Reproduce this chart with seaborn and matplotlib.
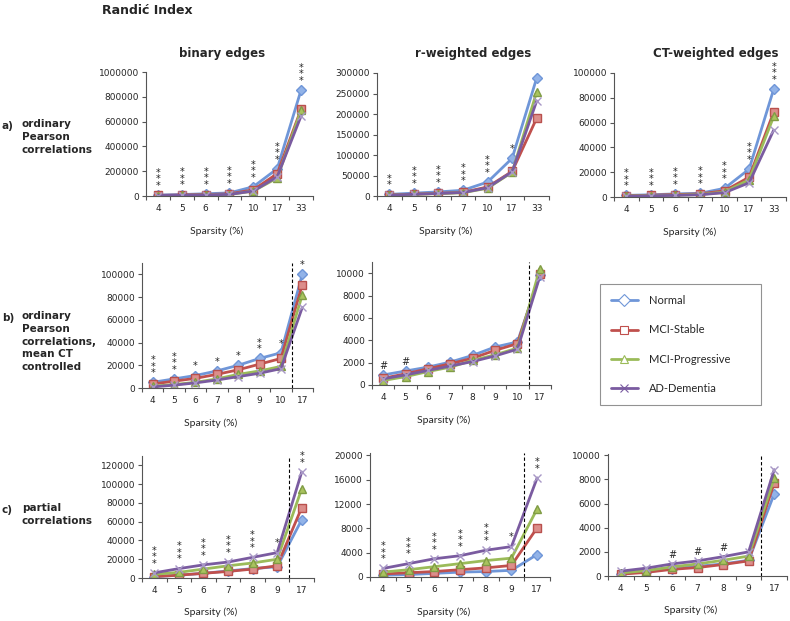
import numpy as np
import pandas as pd
import matplotlib
matplotlib.use("Agg")
import matplotlib.pyplot as plt
import seaborn as sns
from matplotlib.lines import Line2D

# ------------------------------------------------------------------
# data
# ------------------------------------------------------------------
GROUPS = ["Normal", "MCI-Stable", "MCI-Progressive", "AD-Dementia"]
SPARS_A = ["4", "5", "6", "7", "10", "17", "33"]
SPARS_B = ["4", "5", "6", "7", "8", "9", "10", "17"]
SPARS_C = ["4", "5", "6", "7", "8", "9", "17"]

# a) ordinary Pearson correlations
A_BIN = {
    "Normal":          [8000, 12000, 18000, 25000, 75000, 220000, 855000],
    "MCI-Stable":      [5000, 8000, 12000, 17000, 50000, 180000, 700000],
    "MCI-Progressive": [3000, 5000, 8000, 12000, 40000, 145000, 690000],
    "AD-Dementia":     [4000, 6000, 9000, 13000, 40000, 155000, 645000],
}
A_BIN_SIG = ["***", "***", "***", "***", "***", "***", "***"]

A_RW = {
    "Normal":          [4000, 7000, 10000, 14000, 34000, 92000, 288000],
    "MCI-Stable":      [2500, 4500, 6500, 9000, 22000, 60000, 190000],
    "MCI-Progressive": [2000, 4000, 6000, 8000, 19000, 58000, 254000],
    "AD-Dementia":     [2200, 4200, 6200, 8500, 20000, 59000, 232000],
}
A_RW_SIG = ["**", "***", "***", "***", "***", "*", ""]

A_CT = {
    "Normal":          [1300, 1800, 2500, 3000, 7000, 22500, 87000],
    "MCI-Stable":      [1000, 1400, 2000, 2500, 5000, 16000, 68500],
    "MCI-Progressive": [800, 1100, 1500, 2000, 4000, 14000, 65000],
    "AD-Dementia":     [700, 1000, 1300, 1800, 3500, 11500, 54000],
}
A_CT_SIG = ["***", "***", "***", "***", "***", "***", "***"]

# b) ordinary Pearson correlations, mean CT controlled
B_BIN = {
    "Normal":          [5000, 8000, 11000, 15000, 20000, 26000, 31000, 100000],
    "MCI-Stable":      [3500, 6000, 8500, 12000, 16000, 21000, 26000, 91000],
    "MCI-Progressive": [1500, 3000, 5000, 8000, 12000, 15000, 19000, 82000],
    "AD-Dementia":     [1000, 2500, 4500, 7000, 10000, 13000, 17000, 71000],
}
B_BIN_SIG = ["***", "***", "*", "*", "*", "**", "*", "*"]

B_RW = {
    "Normal":          [900, 1250, 1600, 2050, 2650, 3400, 3850, 9800],
    "MCI-Stable":      [600, 1000, 1450, 1900, 2400, 3100, 3700, 9900],
    "MCI-Progressive": [400, 750, 1200, 1600, 2200, 2700, 3300, 10400],
    "AD-Dementia":     [550, 900, 1300, 1700, 2100, 2600, 3200, 9700],
}
B_RW_SIG = ["#", "#", "", "", "", "", "", ""]

# c) partial correlations
C_BIN = {
    "Normal":          [1500, 3000, 5000, 7500, 10000, 12000, 62000],
    "MCI-Stable":      [1500, 3000, 5000, 7000, 9500, 13000, 75000],
    "MCI-Progressive": [4000, 6000, 9500, 13000, 16000, 20000, 95000],
    "AD-Dementia":     [5500, 10000, 14000, 17000, 22000, 27000, 113000],
}
C_BIN_SIG = ["***", "***", "***", "***", "***", "*", "**"]

C_RW = {
    "Normal":          [300, 400, 600, 800, 900, 1100, 3700],
    "MCI-Stable":      [500, 700, 900, 1200, 1500, 1900, 8100],
    "MCI-Progressive": [800, 1200, 1700, 2200, 2700, 3100, 11200],
    "AD-Dementia":     [1400, 2200, 3000, 3500, 4400, 5000, 16300],
}
C_RW_SIG = ["***", "***", "***", "***", "***", "*", "**"]

C_CT = {
    "Normal":          [200, 350, 600, 800, 1000, 1300, 6800],
    "MCI-Stable":      [150, 300, 550, 700, 950, 1250, 7700],
    "MCI-Progressive": [250, 450, 750, 1000, 1300, 1650, 8100],
    "AD-Dementia":     [400, 650, 1000, 1250, 1600, 2000, 8800],
}
C_CT_SIG = ["", "", "#", "#", "#", "", ""]

# ------------------------------------------------------------------
# styling
# ------------------------------------------------------------------
STYLES = {
    "Normal":          dict(color="#6F96D8", marker="D", mfc="#92B3E8", mec="#6F96D8", ms=5),
    "MCI-Stable":      dict(color="#C0504D", marker="s", mfc="#DC8E8B", mec="#B9504D", ms=5.5),
    "MCI-Progressive": dict(color="#9BBB59", marker="^", mfc="#A9C35E", mec="#809C45", ms=6),
    "AD-Dementia":     dict(color="#7A5BA0", marker="x", mfc="none", mec="#A898C6", ms=6),
}

sns.set_style("white")
plt.rcParams["font.family"] = ["DejaVu Sans"]

W, H = 790, 621
fig = plt.figure(figsize=(W / 100, H / 100), dpi=100)


def px_axes(x0, y0, x1, y1):
    return fig.add_axes([x0 / W, 1 - y1 / H, (x1 - x0) / W, (y1 - y0) / H])


def draw_panel(ax, cats, data, sig, ylim, yticks, xlab_x, divider):
    df = pd.DataFrame(data)
    df["pos"] = range(len(cats))
    long = df.melt(id_vars="pos", var_name="group", value_name="value")
    for g in GROUPS:
        st = STYLES[g]
        sns.lineplot(data=long[long["group"] == g], x="pos", y="value", ax=ax,
                     color=st["color"], lw=2.0, marker=st["marker"],
                     markersize=st["ms"], markerfacecolor=st["mfc"],
                     markeredgecolor=st["mec"], markeredgewidth=1.0,
                     legend=False, errorbar=None, sort=False)

    n = len(cats)
    ax.set_xlim(-0.5, n - 0.5)
    ax.set_ylim(*ylim)
    ax.set_xticks(range(n))
    ax.set_xticklabels(cats)
    ax.set_xticks(np.arange(-0.5, n), minor=True)
    ax.set_yticks(yticks)
    ax.set_yticklabels([str(int(t)) for t in yticks])
    ax.tick_params(axis="x", which="major", length=0, labelsize=6.5, pad=6)
    ax.tick_params(axis="x", which="minor", length=3, width=0.8, color="#555555", direction="out")
    ax.tick_params(axis="y", length=3, width=0.8, color="#555555", direction="out",
                   labelsize=6.5, pad=2)
    ax.tick_params(bottom=True, left=True, which="both")
    for side in ["top", "right"]:
        ax.spines[side].set_visible(False)
    for side in ["left", "bottom"]:
        ax.spines[side].set_color("#555555")
        ax.spines[side].set_linewidth(0.8)
    ax.set_ylabel("")
    ax.set_xlabel("Sparsity (%)", fontsize=7.5, family="Lato")
    ax.xaxis.set_label_coords(xlab_x, -0.245)
    if divider:
        ax.axvline(n - 1.5, ls=(0, (3, 2)), color="black", lw=0.8)

    tops = df[GROUPS].max(axis=1).values
    for i, s in enumerate(sig):
        if not s:
            continue
        txt = "\n".join(s) if s.startswith("*") else s
        ax.annotate(txt, (i, tops[i]), xytext=(0, 3), textcoords="offset points",
                    ha="center", va="bottom", fontsize=7, linespacing=0.56)


# row a
ax = px_axes(146, 72, 313, 196)
draw_panel(ax, SPARS_A, A_BIN, A_BIN_SIG, (0, 1000000), range(0, 1000001, 200000), 0.42, False)
ax = px_axes(377, 73, 549, 196)
draw_panel(ax, SPARS_A, A_RW, A_RW_SIG, (0, 300000), range(0, 300001, 50000), 0.40, False)
ax = px_axes(614, 73, 786, 197)
draw_panel(ax, SPARS_A, A_CT, A_CT_SIG, (0, 100000), range(0, 100001, 20000), 0.44, False)

# row b
ax = px_axes(142, 263, 313, 388)
draw_panel(ax, SPARS_B, B_BIN, B_BIN_SIG, (0, 110000), range(0, 100001, 20000), 0.40, True)
ax = px_axes(372, 262, 551, 385)
draw_panel(ax, SPARS_B, B_RW, B_RW_SIG, (0, 11000), range(0, 10001, 2000), 0.40, True)

# row c
ax = px_axes(142, 456, 314, 578)
draw_panel(ax, SPARS_C, C_BIN, C_BIN_SIG, (0, 130000), range(0, 120001, 20000), 0.40, True)
ax = px_axes(370, 453, 550, 577)
draw_panel(ax, SPARS_C, C_RW, C_RW_SIG, (0, 20400), range(0, 20001, 4000), 0.41, True)
ax = px_axes(608, 454, 787, 576)
draw_panel(ax, SPARS_C, C_CT, C_CT_SIG, (0, 10100), range(0, 10001, 2000), 0.46, True)

# titles
fig.text(147 / W, 1 - 11 / H, "Randić Index", fontsize=9, fontweight="bold", ha="center", va="center")
for cx, t in [(222, "binary edges"), (473, "r-weighted edges"), (716, "CT-weighted edges")]:
    fig.text(cx / W, 1 - 53 / H, t, fontsize=8.5, fontweight="bold", ha="center", va="center")

# row labels
for y, tag, txt in [(126, "a)", "ordinary\nPearson\ncorrelations"),
                    (318, "b)", "ordinary\nPearson\ncorrelations,\nmean CT\ncontrolled"),
                    (510, "c)", "partial\ncorrelations")]:
    fig.text(2 / W, 1 - y / H, tag, fontsize=7.5, fontweight="bold", ha="left", va="center")
    fig.text(22 / W, 1 - (y - 7) / H, txt, fontsize=7.5, fontweight="bold", ha="left", va="top",
             linespacing=1.35)

# legend
handles = [Line2D([], [], color=STYLES[g]["color"], lw=2.0, marker=STYLES[g]["marker"],
                  markersize=6, markerfacecolor="white", markeredgecolor=STYLES[g]["color"],
                  markeredgewidth=0.8) for g in GROUPS]
leg = fig.legend(handles, GROUPS, loc="upper left",
                 bbox_to_anchor=(600 / W, 1 - 404 / H, 161 / W, 120 / H), mode="expand",
                 prop={"family": "Lato", "size": 8}, frameon=True, fancybox=False,
                 edgecolor="#777777", labelspacing=1.65, handlelength=2.4, borderpad=1.0,
                 handletextpad=1.0, borderaxespad=0)
leg.get_frame().set_linewidth(0.8)

fig.savefig("out.png", dpi=100)
